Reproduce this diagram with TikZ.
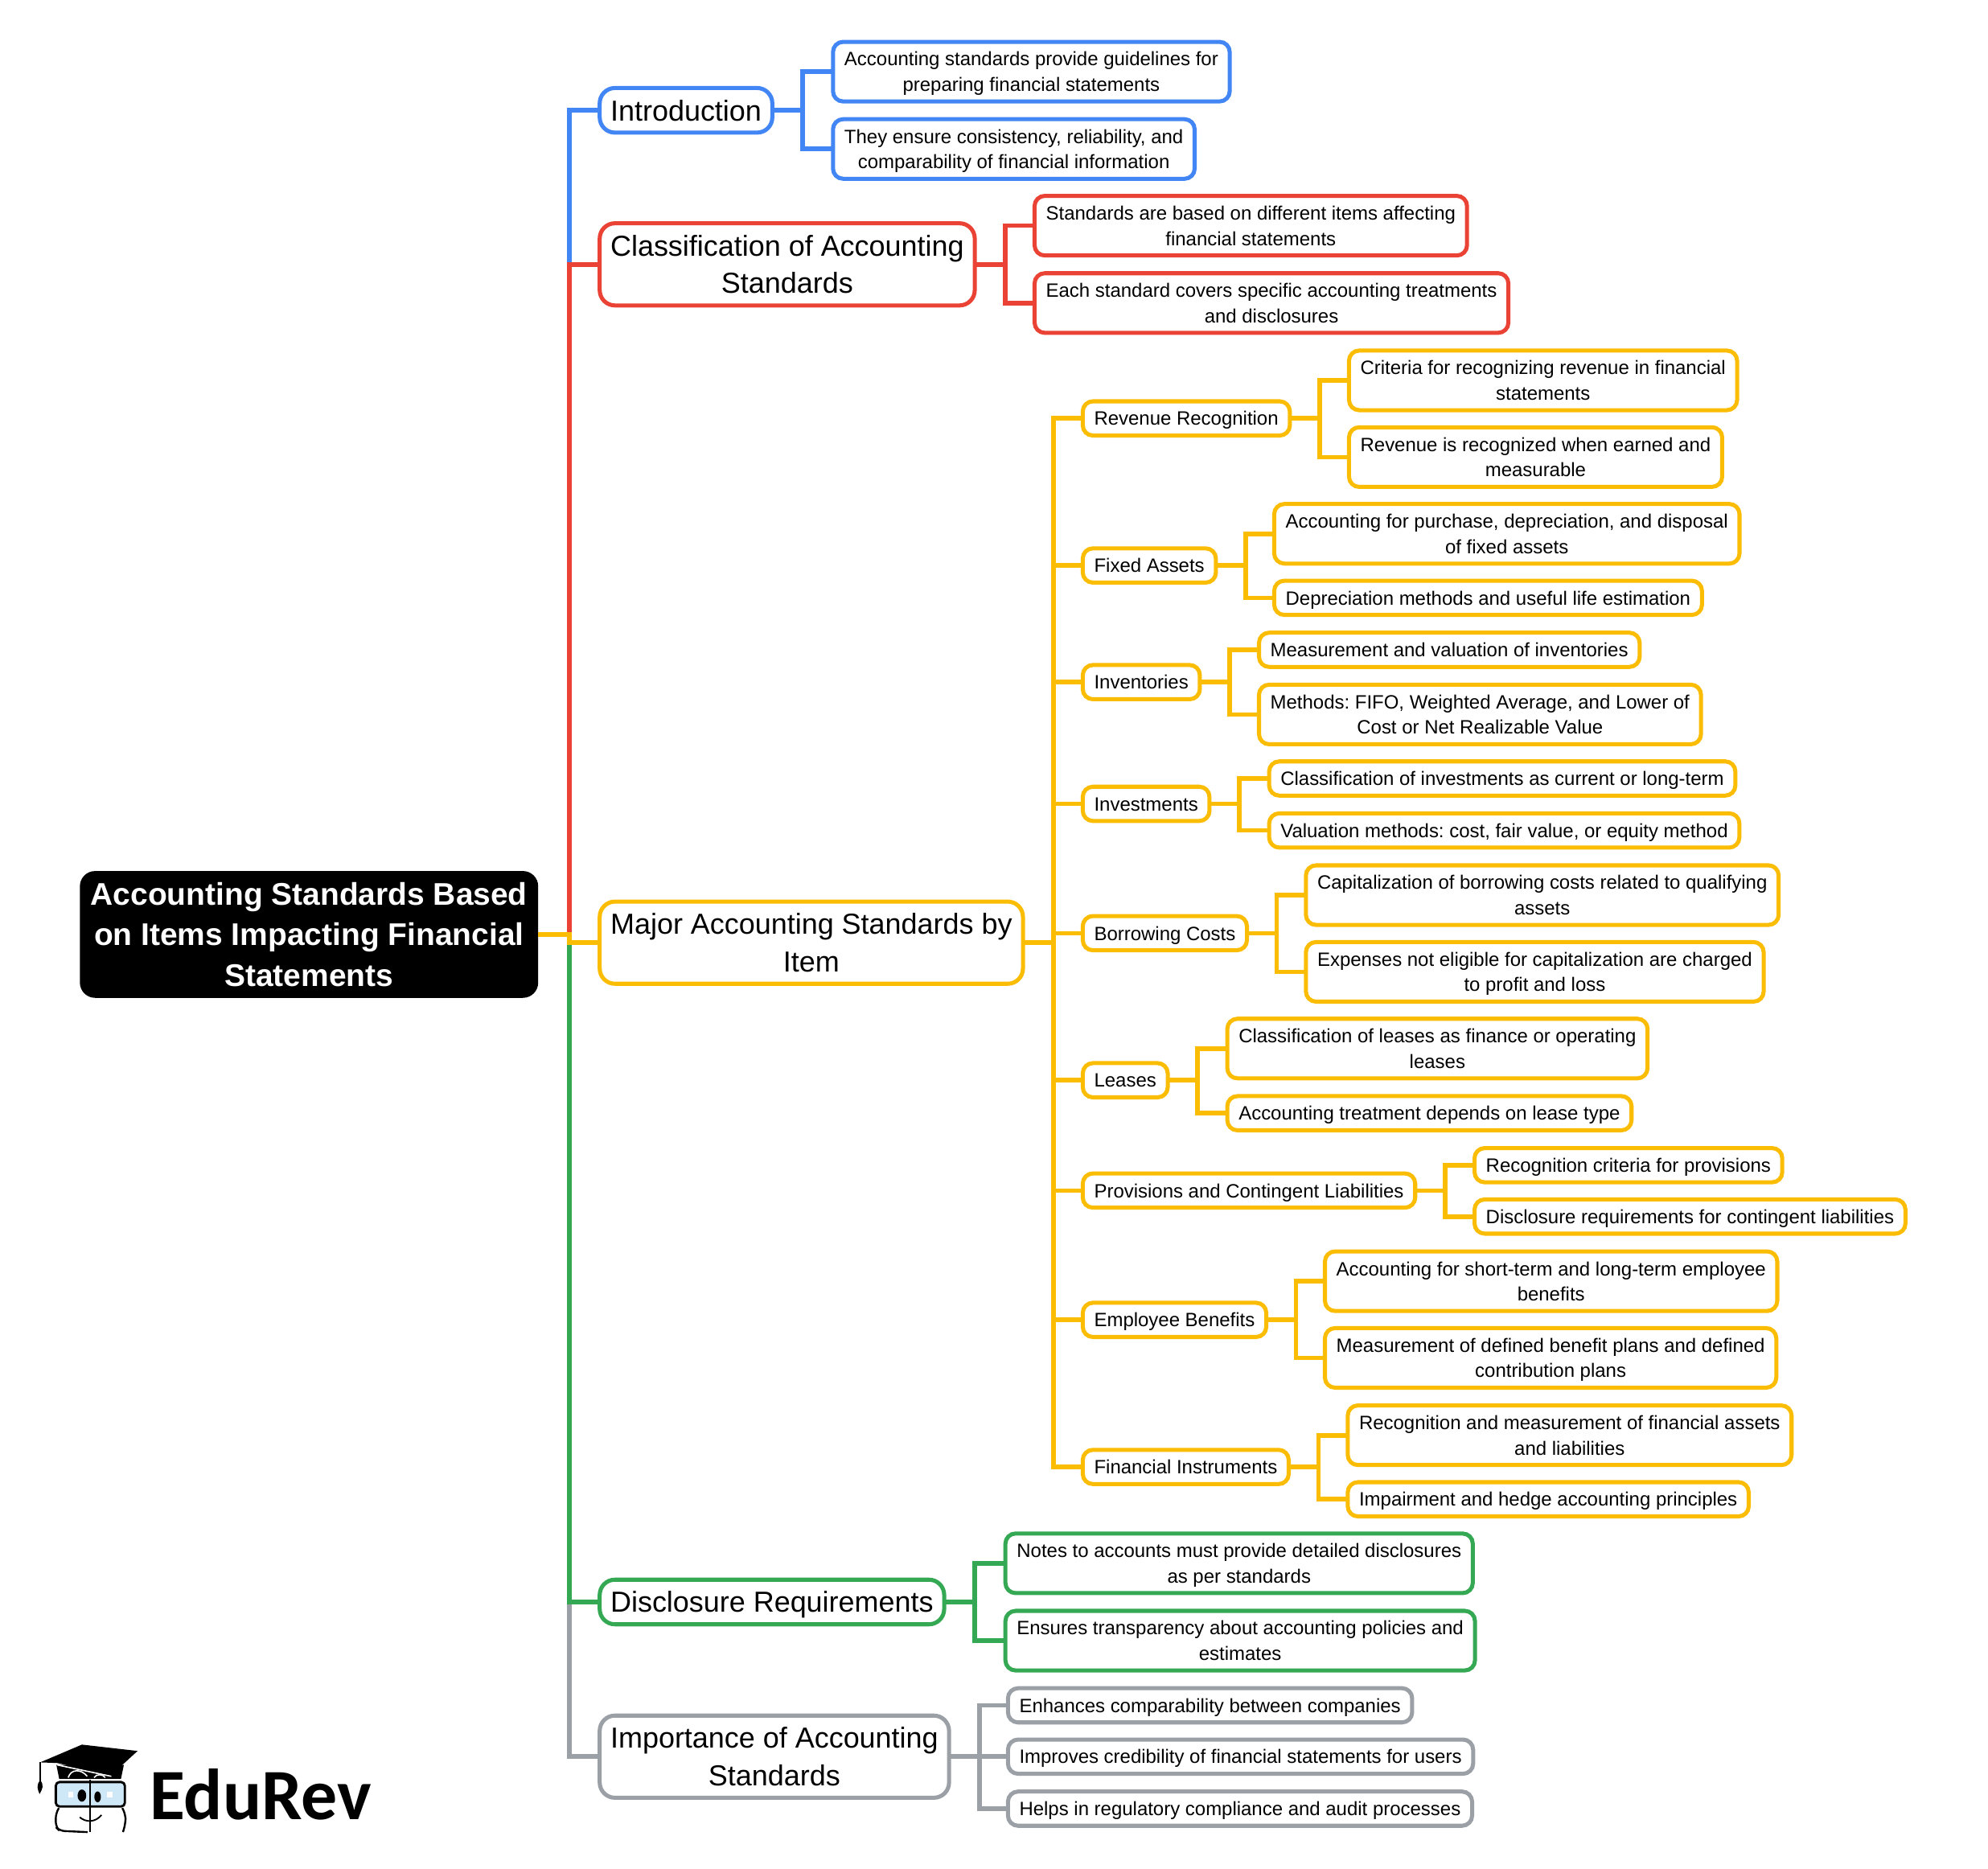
\documentclass[tikz,border=0pt]{standalone}
\usepackage{fontspec}
\setmainfont{Liberation Sans}
\newfontfamily\logofont{Carlito}
\frenchspacing
\definecolor{cblue}{HTML}{4285F4}
\definecolor{cred}{HTML}{EA4335}
\definecolor{cyellow}{HTML}{FBBC04}
\definecolor{cgreen}{HTML}{34A853}
\definecolor{cgray}{HTML}{9AA0A6}
\definecolor{lens}{HTML}{CFE8F8}
\tikzset{
  mapbox/.style={rectangle,anchor=west,outer sep=0pt,align=center,inner xsep=9pt,text=black,
    execute at begin node={\rule[-.225\baselineskip]{0pt}{\baselineskip}}},
  twolines/.style={execute at begin node={\rule[-.225\baselineskip]{0pt}{2\baselineskip}}},
  rootbox/.style={mapbox,fill=black,text=white,rounded corners=12pt,inner ysep=2pt,inner xsep=8.5pt,
    execute at begin node={\rule[-.225\baselineskip]{0pt}{3\baselineskip}},
    font=\fontsize{24.7}{32}\selectfont\bfseries},
  topicbox/.style={mapbox,draw=#1,line width=3.2pt,fill=white,rounded corners=12pt,inner ysep=2.8pt,inner xsep=8.5pt,
    font=\fontsize{22.8}{29.6}\selectfont},
  subbox/.style={mapbox,draw=#1,line width=3.2pt,fill=white,rounded corners=8pt,inner ysep=3.5pt,
    font=\fontsize{15.2}{20}\selectfont},
  link/.style={draw=#1,line width=3.6pt},
}
\begin{document}
\begin{tikzpicture}[x=1pt,y=-1pt]
  \useasboundingbox (0,0) rectangle (1568,1473.5);
  \node[rootbox] (root) at (63,737) {Accounting Standards Based\\on Items Impacting Financial\\Statements};
  % main topics
  \node[topicbox=cblue] (intro) at (473,87) {Introduction};
  \node[topicbox=cred,twolines] (classif) at (473,208.5) {Classification of Accounting\\Standards};
  \node[topicbox=cyellow,twolines] (major) at (473,743.5) {Major Accounting Standards by\\Item};
  \node[topicbox=cgreen] (disclo) at (473,1263.5) {Disclosure Requirements};
  \node[topicbox=cgray,twolines] (import) at (473,1385.5) {Importance of Accounting\\Standards};
  % introduction
  \node[subbox=cblue,twolines] (introa) at (657,56.5) {Accounting standards provide guidelines for\\preparing financial statements};
  \node[subbox=cblue,twolines] (introb) at (657,117.5) {They ensure consistency, reliability, and\\comparability of financial information};
  % classification
  \node[subbox=cred,twolines] (classifa) at (816,178) {Standards are based on different items affecting\\financial statements};
  \node[subbox=cred,twolines] (classifb) at (816,239) {Each standard covers specific accounting treatments\\and disclosures};
  % items
  \node[subbox=cyellow] (revenue) at (854,330) {Revenue Recognition};
  \node[subbox=cyellow] (fixed) at (854,446) {Fixed Assets};
  \node[subbox=cyellow] (invent) at (854,538) {Inventories};
  \node[subbox=cyellow] (invest) at (854,634) {Investments};
  \node[subbox=cyellow] (borrow) at (854,736) {Borrowing Costs};
  \node[subbox=cyellow] (leases) at (854,852) {Leases};
  \node[subbox=cyellow] (provis) at (854,939) {Provisions and Contingent Liabilities};
  \node[subbox=cyellow] (employ) at (854,1041) {Employee Benefits};
  \node[subbox=cyellow] (financ) at (854,1157) {Financial Instruments};
  \node[subbox=cyellow,twolines] (revenuea) at (1064,300) {Criteria for recognizing revenue in financial\\statements};
  \node[subbox=cyellow,twolines] (revenueb) at (1064,360.5) {Revenue is recognized when earned and\\measurable};
  \node[subbox=cyellow,twolines] (fixeda) at (1005,421) {Accounting for purchase, depreciation, and disposal\\of fixed assets};
  \node[subbox=cyellow] (fixedb) at (1005,471.5) {Depreciation methods and useful life estimation};
  \node[subbox=cyellow] (inventa) at (993,512.5) {Measurement and valuation of inventories};
  \node[subbox=cyellow,twolines] (inventb) at (993,563.5) {Methods: FIFO, Weighted Average, and Lower of\\Cost or Net Realizable Value};
  \node[subbox=cyellow] (investa) at (1001,614) {Classification of investments as current or long-term};
  \node[subbox=cyellow] (investb) at (1001,655) {Valuation methods: cost, fair value, or equity method};
  \node[subbox=cyellow,twolines] (borrowa) at (1030,706) {Capitalization of borrowing costs related to qualifying\\assets};
  \node[subbox=cyellow,twolines] (borrowb) at (1030,766.5) {Expenses not eligible for capitalization are charged\\to profit and loss};
  \node[subbox=cyellow,twolines] (leasesa) at (968,827) {Classification of leases as finance or operating\\leases};
  \node[subbox=cyellow] (leasesb) at (968,878) {Accounting treatment depends on lease type};
  \node[subbox=cyellow] (provisa) at (1163,919) {Recognition criteria for provisions};
  \node[subbox=cyellow] (provisb) at (1163,959.5) {Disclosure requirements for contingent liabilities};
  \node[subbox=cyellow,twolines] (employa) at (1045,1010.5) {Accounting for short-term and long-term employee\\benefits};
  \node[subbox=cyellow,twolines] (employb) at (1045,1071) {Measurement of defined benefit plans and defined\\contribution plans};
  \node[subbox=cyellow,twolines] (financa) at (1063,1132) {Recognition and measurement of financial assets\\and liabilities};
  \node[subbox=cyellow] (financb) at (1063,1182.5) {Impairment and hedge accounting principles};
  % disclosure
  \node[subbox=cgreen,twolines] (discloa) at (793,1233) {Notes to accounts must provide detailed disclosures\\as per standards};
  \node[subbox=cgreen,twolines] (disclob) at (793,1294) {Ensures transparency about accounting policies and\\estimates};
  % importance
  \node[subbox=cgray] (importa) at (795,1345) {Enhances comparability between companies};
  \node[subbox=cgray] (importb) at (795,1385.5) {Improves credibility of financial statements for users};
  \node[subbox=cgray] (importc) at (795,1426.5) {Helps in regulatory compliance and audit processes};
  % connectors, last one drawn stays on top of the trunk
  \foreach \to/\col in {intro/cblue,classif/cred,import/cgray,disclo/cgreen,major/cyellow} {
    \draw[link=\col] (root.east) -- ++(24.5,0) |- (\to.west);
  }
  \foreach \from/\to/\col in {intro/introa/cblue,intro/introb/cblue,classif/classifa/cred,classif/classifb/cred,
      major/revenue/cyellow,major/fixed/cyellow,major/invent/cyellow,major/invest/cyellow,major/borrow/cyellow,
      major/leases/cyellow,major/provis/cyellow,major/employ/cyellow,major/financ/cyellow,
      disclo/discloa/cgreen,disclo/disclob/cgreen,import/importa/cgray,import/importb/cgray,import/importc/cgray} {
    \draw[link=\col] (\from.east) -- ++(24,0) |- (\to.west);
  }
  \foreach \from in {revenue,fixed,invent,invest,borrow,leases,provis,employ,financ} {
    \foreach \leaf in {a,b} {
      \draw[link=cyellow] (\from.east) -- ++(23.5,0) |- (\from\leaf.west);
    }
  }
  % logo
  \fill (44.5,1392) -- (46.7,1403) -- (95.4,1403) -- (97.7,1392) -- cycle;
  \draw[white,line width=1pt] (45,1392) -- (87.8,1401);
  \draw[white,line width=1pt] (53.8,1402) .. controls (56,1395) and (64,1395) .. (68.8,1401);
  \draw[white,line width=1pt] (74.2,1402) .. controls (76,1399) and (81,1399) .. (83,1402);
  \fill (31.7,1390) -- (64.6,1376) -- (108.5,1381) -- (87.8,1400) -- (45,1390.5) -- cycle;
  \draw[line width=1pt] (31.7,1390) -- (31.7,1405);
  \fill (31.7,1404) .. controls (28.5,1408) and (29.5,1411) .. (31.2,1415) .. controls (33.5,1411) and (35,1408) .. (31.7,1404) -- cycle;
  \draw[line width=1.8pt,fill=lens,rounded corners=3pt] (44,1405.5) rectangle (98.5,1424.8);
  \draw[line width=1.5pt,rounded corners=4pt] (46.5,1426) -- (44,1430) -- (44,1441) -- (47,1444) -- (69,1445);
  \draw[line width=1.5pt,rounded corners=4pt] (96.5,1426) -- (99,1431) -- (99,1438) -- (97,1445);
  \draw[line width=1.8pt] (71,1404) -- (71,1445);
  \fill (64.6,1416.2) ellipse (3.4pt and 4.8pt);
  \fill (77,1417.2) ellipse (2.6pt and 4.3pt);
  \fill[white] (54,1413.5) rectangle (58,1417.5);
  \fill[white] (84.5,1413.5) rectangle (88.5,1417.5);
  \draw[line width=1.2pt] (62.9,1433.3) .. controls (68,1437.5) and (75,1437.5) .. (80.1,1431.5);
  \node[anchor=base west,inner sep=0pt,font=\logofont\bfseries\fontsize{57}{57}\selectfont] (logotext) at (118,1435) {EduRev};
\end{tikzpicture}
\end{document}
